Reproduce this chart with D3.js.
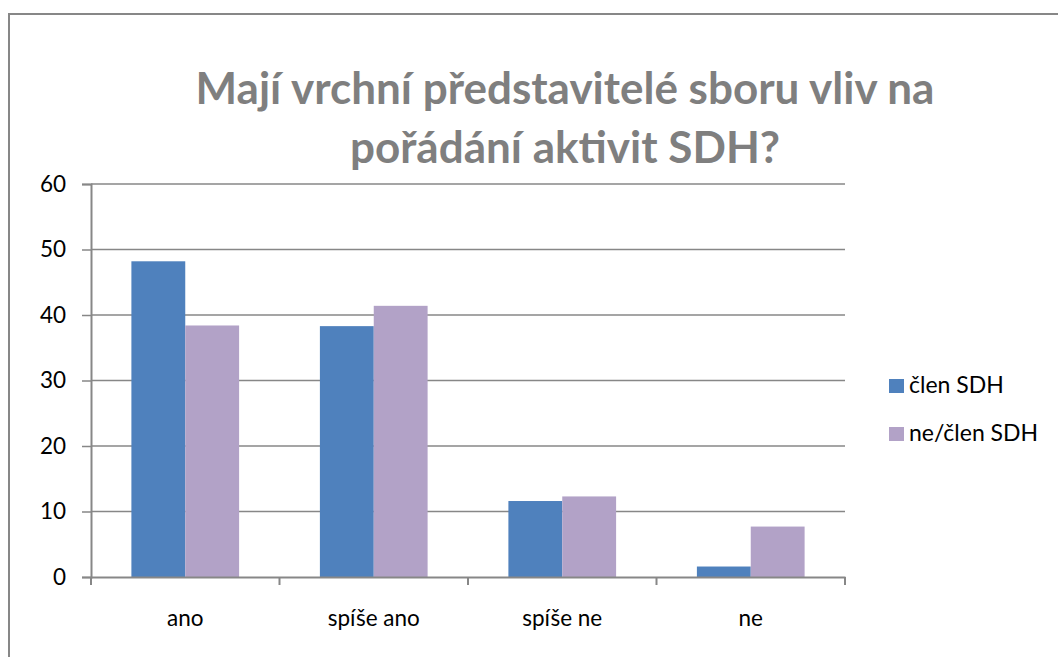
<!DOCTYPE html>
<html>
<head>
<meta charset="utf-8">
<script src="https://cdn.jsdelivr.net/npm/d3@7"></script>
<style>
  body { margin: 0; background: #fff; }
  svg { display: block; font-family: Lato, "Open Sans", sans-serif; }
</style>
</head>
<body>
<div id="chart"></div>
<script>
// chart data
const categories = ["ano", "spíše ano", "spíše ne", "ne"];
const seriesNames = ["člen SDH", "ne/člen SDH"];
const clenSDH = [48.2, 38.3, 11.6, 1.6];
const neClenSDH = [38.4, 41.4, 12.3, 7.7];
const yTicks = [0, 10, 20, 30, 40, 50, 60];
const titleLines = ["Mají vrchní představitelé sboru vliv na", "pořádání aktivit SDH?"];

const cfg = {
    width: 1058,
    height: 657,
    colors: ["#4f81bd", "#b2a2c7"],
    axisColor: "#878787",
    labelSize: 22.5,
    margin: { top: 184, left: 91, right: 213, bottom: 80 }
};

const data = categories.map((c, i) => ({ label: c, values: [clenSDH[i], neClenSDH[i]] }));

const svg = d3.select("#chart").append("svg")
    .attr("width", cfg.width)
    .attr("height", cfg.height);

// outer frame (continues past the right and bottom edge)
svg.append("rect")
    .attr("x", 9).attr("y", 14)
    .attr("width", 1100).attr("height", 700)
    .attr("fill", "none")
    .attr("stroke", cfg.axisColor)
    .attr("stroke-width", 2);

// title
const title = svg.append("text")
    .attr("text-anchor", "middle")
    .attr("fill", "#7f7f7f")
    .attr("font-weight", "bold")
    .attr("font-size", 44);
title.selectAll("tspan").data(titleLines).enter().append("tspan")
    .attr("x", 565)
    .attr("y", (d, i) => 104 + i * 59)
    .text(d => d);

const plotW = cfg.width - cfg.margin.left - cfg.margin.right;
const plotH = 577 - cfg.margin.top;

const g = svg.append("g")
    .attr("transform", "translate(" + cfg.margin.left + "," + cfg.margin.top + ")");

const x0 = d3.scaleBand().domain(categories).range([0, plotW]).padding(0);
const x1 = d3.scaleBand().domain(d3.range(seriesNames.length))
    .range([0, x0.bandwidth()]).paddingInner(0).paddingOuter(0.75);
const y = d3.scaleLinear().domain([0, 60]).range([plotH, 0]);

// gridlines
g.append("g").selectAll("line").data(yTicks.filter(t => t > 0)).enter().append("line")
    .attr("x1", 0).attr("x2", plotW)
    .attr("y1", d => y(d)).attr("y2", d => y(d))
    .attr("stroke", cfg.axisColor).attr("stroke-width", 1.5);

// bars
const groups = g.append("g").selectAll("g").data(data).enter().append("g")
    .attr("transform", d => "translate(" + x0(d.label) + ",0)");
groups.selectAll("rect").data(d => d.values).enter().append("rect")
    .attr("x", (d, i) => x1(i))
    .attr("y", d => y(d))
    .attr("width", x1.bandwidth())
    .attr("height", d => plotH - y(d))
    .attr("fill", (d, i) => cfg.colors[i]);

// y axis
const yAxis = g.append("g")
    .call(d3.axisLeft(y).tickValues(yTicks).tickSize(9).tickPadding(16));
yAxis.select(".domain").attr("stroke", cfg.axisColor).attr("stroke-width", 2);
yAxis.selectAll(".tick line").attr("stroke", cfg.axisColor).attr("stroke-width", 1.5);
yAxis.selectAll(".tick text")
    .attr("font-family", "Lato, sans-serif").attr("font-size", cfg.labelSize).attr("fill", "#000");

// x axis
const xAxis = g.append("g")
    .attr("transform", "translate(0," + plotH + ")")
    .call(d3.axisBottom(x0).tickSize(0).tickPadding(33));
xAxis.select(".domain").attr("stroke", cfg.axisColor).attr("stroke-width", 2);
xAxis.selectAll(".tick text")
    .attr("font-family", "Lato, sans-serif").attr("font-size", cfg.labelSize).attr("fill", "#000");
// boundary ticks between categories
xAxis.append("g").selectAll("line")
    .data(categories.map(c => x0(c)).concat([plotW])).enter().append("line")
    .attr("x1", d => d).attr("x2", d => d)
    .attr("y1", 0).attr("y2", 8)
    .attr("stroke", cfg.axisColor).attr("stroke-width", 2);

// legend
const legend = svg.append("g").attr("transform", "translate(889,379)");
const items = legend.selectAll("g").data(seriesNames).enter().append("g")
    .attr("transform", (d, i) => "translate(0," + i * 48 + ")");
items.append("rect")
    .attr("width", 15).attr("height", 14)
    .attr("fill", (d, i) => cfg.colors[i]);
items.append("text")
    .attr("x", 20).attr("y", 14)
    .attr("font-size", cfg.labelSize + 0.5).attr("fill", "#000")
    .text(d => d);
</script>
</body>
</html>
